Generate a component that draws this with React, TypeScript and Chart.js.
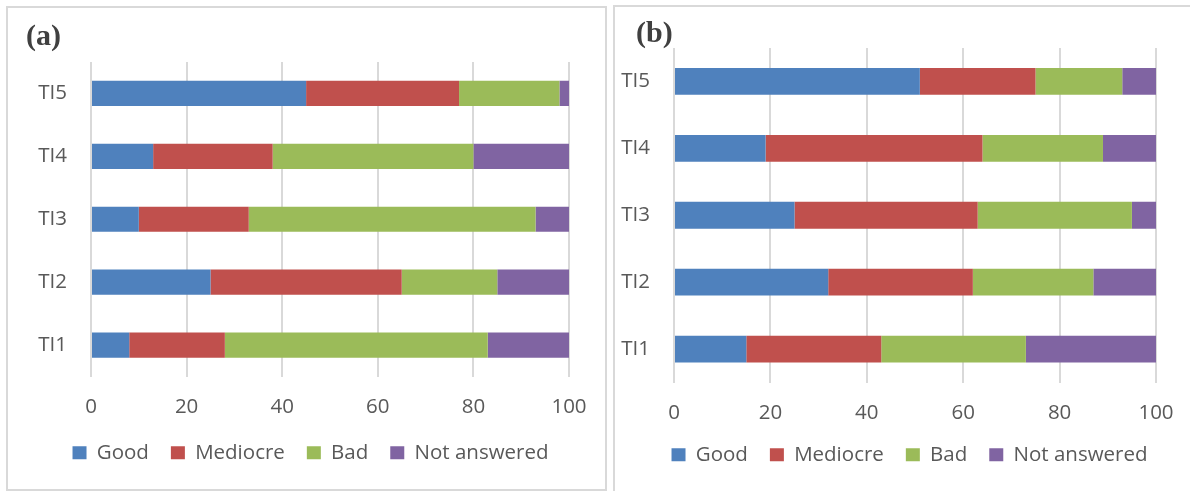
import React, { useEffect, useRef } from "react";
import { Chart, registerables } from "chart.js";

Chart.register(...registerables);

const categories = ["TI1", "TI2", "TI3", "TI4", "TI5"];
const seriesNames = ["Good", "Mediocre", "Bad", "Not answered"];
const seriesColors = ["#4F81BD", "#C0504D", "#9BBB59", "#8064A2"];
const xTickValues = [0, 20, 40, 60, 80, 100];

// Panel (a)
const goodA = [8, 25, 10, 13, 45];
const mediocreA = [20, 40, 23, 25, 32];
const badA = [55, 20, 60, 42, 21];
const notAnsweredA = [17, 15, 7, 20, 2];

// Panel (b)
const goodB = [15, 32, 25, 19, 51];
const mediocreB = [28, 30, 38, 45, 24];
const badB = [30, 25, 32, 25, 18];
const notAnsweredB = [27, 13, 5, 11, 7];

const FONT = '"Open Sans", "Noto Sans", sans-serif';
const TEXT = "#595959";
const GRID = "#d9d9d9";

type PanelProps = {
  series: number[][];
  left: number;
  top: number;
  width: number;
  height: number;
  pad: { left: number; right: number; top: number; bottom: number };
  yWidth: number;
  rightWidth: number;
  xHeight: number;
  xPad: number;
};

function BarPanel(props: PanelProps) {
  const ref = useRef<HTMLCanvasElement | null>(null);
  useEffect(() => {
    if (!ref.current) return;
    const chart = new Chart(ref.current, {
      type: "bar",
      data: {
        labels: categories,
        datasets: seriesNames.map((name, i) => ({
          label: name,
          data: props.series[i],
          backgroundColor: seriesColors[i],
          borderWidth: 0,
          categoryPercentage: 0.8,
          barPercentage: 0.5,
        })),
      },
      options: {
        indexAxis: "y",
        animation: false,
        responsive: false,
        devicePixelRatio: 1,
        layout: { padding: props.pad },
        scales: {
          x: {
            stacked: true,
            min: 0,
            max: 100,
            afterBuildTicks: (s: any) => {
              s.ticks = xTickValues.map((v) => ({ value: v }));
            },
            afterFit: (s: any) => {
              s.height = props.xHeight;
            },
            grid: { color: GRID, lineWidth: 2, drawTicks: false },
            border: { display: false },
            ticks: {
              color: TEXT,
              padding: props.xPad,
              font: { family: FONT, size: 20.5 },
              maxRotation: 0,
            },
          },
          y: {
            stacked: true,
            reverse: true,
            afterFit: (s: any) => {
              s.width = props.yWidth;
            },
            grid: { display: false, drawTicks: false },
            border: { display: false },
            ticks: {
              color: TEXT,
              padding: 24,
              autoSkip: false,
              font: { family: FONT, size: 20.5 },
            },
          },
          yRight: {
            type: "linear",
            position: "right",
            display: true,
            afterFit: (s: any) => {
              s.width = props.rightWidth;
            },
            grid: { display: false, drawTicks: false },
            border: { display: false },
            ticks: { display: false },
          },
        },
        plugins: {
          legend: {
            position: "bottom",
            labels: {
              boxWidth: 14,
              boxHeight: 13,
              padding: 22,
              color: TEXT,
              font: { family: FONT, size: 20.5 },
            },
          },
          tooltip: { enabled: false },
          title: { display: false },
        },
      },
    } as any);
    return () => chart.destroy();
  }, []);
  return (
    <canvas
      ref={ref}
      width={props.width}
      height={props.height}
      style={{
        position: "absolute",
        left: props.left,
        top: props.top,
        width: props.width,
        height: props.height,
      }}
    />
  );
}

const titleStyle: React.CSSProperties = {
  position: "absolute",
  fontFamily: '"Liberation Serif", "Times New Roman", serif',
  fontWeight: "bold",
  fontSize: 30,
  lineHeight: "30px",
  color: "#404040",
  margin: 0,
};

export default function App() {
  return (
    <div
      style={{
        position: "fixed",
        left: 0,
        top: 0,
        width: 1190,
        height: 491,
        background: "#fff",
        overflow: "hidden",
      }}
    >
      <div
        style={{
          position: "absolute",
          left: 6,
          top: 6,
          width: 601,
          height: 485,
          border: `2px solid ${GRID}`,
          boxSizing: "border-box",
        }}
      />
      <div
        style={{
          position: "absolute",
          left: 613,
          top: 5,
          width: 700,
          height: 600,
          border: `2px solid ${GRID}`,
          boxSizing: "border-box",
        }}
      />
      <BarPanel
        series={[goodA, mediocreA, badA, notAnsweredA]}
        left={8}
        top={8}
        width={597}
        height={481}
        pad={{ left: 8, right: 0, top: 54, bottom: 16 }}
        yWidth={75}
        rightWidth={36}
        xHeight={44}
        xPad={18}
      />
      <BarPanel
        series={[goodB, mediocreB, badB, notAnsweredB]}
        left={616}
        top={8}
        width={600}
        height={483}
        pad={{ left: 0, right: 13, top: 40, bottom: 16 }}
        yWidth={58}
        rightWidth={47}
        xHeight={40}
        xPad={18}
      />
      <div style={{ ...titleStyle, left: 26, top: 20 }}>(a)</div>
      <div style={{ ...titleStyle, left: 636, top: 17 }}>(b)</div>
    </div>
  );
}
